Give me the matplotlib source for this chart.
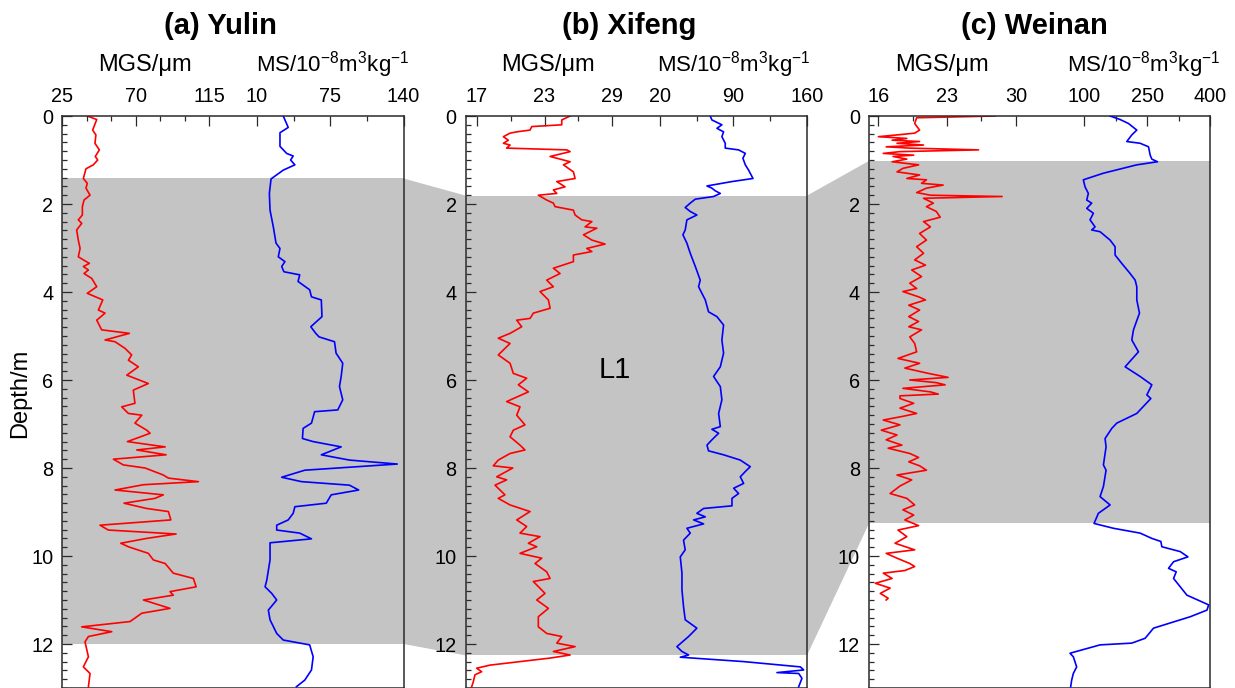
import matplotlib
matplotlib.use('Agg')
import matplotlib.pyplot as plt
from matplotlib.patches import Polygon
from matplotlib.ticker import MultipleLocator

plt.rcParams['font.family'] = ['Liberation Sans', 'DejaVu Sans']
plt.rcParams['mathtext.default'] = 'regular'

# ---------------- data ----------------
# (a) Yulin
yulin_mgs_depth = [0.00, 0.08, 0.32, 0.43, 0.62, 0.77, 0.92, 1.00, 1.11, 1.20, 1.42, 1.53, 1.64, 1.80, 1.91,
                   2.06, 2.25, 2.36, 2.44, 2.59, 2.82, 3.01, 3.20, 3.27, 3.35, 3.42, 3.50, 3.58, 3.69, 3.88,
                   4.03, 4.18, 4.41, 4.48, 4.64, 4.86, 4.94, 5.09, 5.13, 5.28, 5.43, 5.55, 5.70, 5.89, 6.08,
                   6.23, 6.53, 6.61, 6.76, 6.80, 6.98, 7.14, 7.21, 7.40, 7.52, 7.59, 7.70, 7.80, 7.93, 8.00,
                   8.16, 8.23, 8.31, 8.38, 8.50, 8.61, 8.69, 8.80, 8.92, 8.99, 9.18, 9.30, 9.41, 9.50, 9.60,
                   9.71, 9.79, 9.94, 10.09, 10.17, 10.39, 10.51, 10.70, 10.81, 10.89, 11.00, 11.19, 11.30,
                   11.49, 11.61, 11.72, 11.83, 11.95, 12.29, 12.52, 12.67, 12.97]
yulin_mgs = [40.3, 46.1, 43.6, 45.6, 45.0, 47.7, 45.2, 46.7, 44.0, 39.5, 37.9, 40.3, 39.5, 42.0, 38.3,
             37.3, 37.3, 34.8, 36.9, 33.8, 34.8, 35.9, 34.8, 37.9, 41.6, 37.9, 41.0, 38.3, 43.0, 46.1,
             40.3, 49.8, 47.1, 51.2, 46.1, 49.1, 66.1, 51.2, 57.3, 63.4, 67.5, 65.5, 71.6, 64.5, 77.7,
             68.5, 69.5, 61.4, 65.5, 73.7, 69.5, 76.7, 78.8, 64.9, 88.0, 70.6, 88.6, 56.3, 62.4, 75.7,
             86.9, 90.0, 108.4, 74.7, 57.3, 86.9, 81.8, 62.8, 76.7, 90.0, 91.5, 48.1, 53.2, 94.7, 76.7,
             60.8, 65.5, 77.7, 80.8, 88.0, 93.0, 105.3, 107.0, 91.0, 93.0, 74.7, 91.0, 73.7,
             66.5, 36.9, 55.3, 41.0, 38.9, 41.0, 37.9, 42.0, 41.0]
yulin_ms_depth = [0.00, 0.26, 0.38, 0.69, 0.85, 0.91, 1.00, 1.11, 1.23, 1.43, 1.76, 2.14, 2.52, 2.89, 3.01,
                  3.20, 3.31, 3.42, 3.54, 3.61, 3.76, 3.95, 4.11, 4.18, 4.56, 4.79, 4.94, 5.02, 5.13, 5.39,
                  5.62, 5.92, 6.15, 6.45, 6.68, 6.72, 6.98, 7.10, 7.33, 7.40, 7.52, 7.70, 7.82, 7.91, 8.05,
                  8.21, 8.31, 8.39, 8.50, 8.61, 8.80, 8.88, 9.03, 9.18, 9.30, 9.41, 9.48, 9.61, 9.70, 10.09,
                  10.55, 10.70, 10.85, 11.00, 11.23, 11.45, 11.76, 11.91, 12.02, 12.29, 12.59, 12.82, 12.97]
yulin_ms = [33.4, 37.8, 30.5, 30.5, 36.4, 42.2, 39.9, 43.7, 33.4, 22.6, 21.1, 21.7, 24.6, 27.0, 30.5,
            29.0, 34.9, 32.0, 34.0, 48.0, 46.5, 56.8, 58.4, 67.1, 67.7, 57.8, 62.2, 65.1, 78.8, 80.2,
            86.1, 84.7, 83.2, 86.1, 81.7, 61.2, 58.4, 51.0, 50.4, 59.9, 84.7, 67.1, 92.0, 134.4, 52.5,
            32.0, 49.5, 92.0, 100.2, 75.9, 71.5, 43.7, 42.2, 37.8, 27.6, 27.6, 48.0, 58.4, 21.7, 21.7,
            18.8, 17.3, 23.2, 27.6, 20.2, 21.7, 27.6, 33.4, 56.8, 59.9, 58.4, 52.5, 45.1]

# (b) Xifeng
xifeng_mgs_depth = [0.00, 0.09, 0.20, 0.24, 0.32, 0.36, 0.39, 0.47, 0.55, 0.62, 0.66, 0.73, 0.77, 0.81, 0.92,
                    1.04, 1.11, 1.27, 1.42, 1.49, 1.61, 1.68, 1.76, 1.80, 1.91, 1.98, 2.06, 2.14, 2.25, 2.36,
                    2.40, 2.52, 2.55, 2.70, 2.82, 2.91, 3.01, 3.08, 3.16, 3.31, 3.46, 3.58, 3.73, 3.88, 3.99,
                    4.18, 4.37, 4.48, 4.60, 4.64, 4.79, 4.94, 5.05, 5.17, 5.43, 5.62, 5.85, 5.96, 6.11, 6.27,
                    6.49, 6.61, 6.80, 7.02, 7.14, 7.29, 7.48, 7.59, 7.67, 7.82, 7.95, 8.00, 8.20, 8.27, 8.39,
                    8.61, 8.69, 8.84, 8.99, 9.18, 9.33, 9.48, 9.56, 9.71, 9.79, 9.94, 10.05, 10.17, 10.36,
                    10.51, 10.58, 10.85, 11.00, 11.19, 11.38, 11.61, 11.76, 11.83, 11.98, 12.06, 12.17,
                    12.25, 12.32, 12.40, 12.48, 12.55, 12.63, 12.70, 12.86, 12.97]
xifeng_mgs = [25.26, 24.52, 24.52, 21.87, 21.72, 20.54, 19.95, 19.36, 19.80, 19.36, 19.95, 19.65, 24.96, 25.26, 23.49,
              25.26, 24.67, 25.55, 25.70, 24.08, 24.81, 23.78, 24.08, 22.45, 23.19, 23.78, 23.93, 25.55, 25.70, 26.29,
              27.18, 26.58, 27.62, 26.44, 27.18, 28.35, 26.73, 27.18, 25.55, 25.55, 23.78, 24.37, 23.19, 23.78, 22.60,
              23.34, 23.49, 22.01, 21.72, 20.54, 20.98, 19.95, 18.91, 19.95, 18.91, 19.95, 20.24, 21.42, 20.68, 21.57,
              19.65, 20.83, 20.54, 21.27, 20.24, 19.95, 20.83, 21.27, 19.95, 18.91, 18.47, 20.19, 18.77, 19.65, 18.62,
              19.50, 18.91, 19.95, 21.72, 20.54, 21.42, 20.83, 22.60, 21.57, 22.31, 20.83, 22.75, 22.16, 23.19,
              23.49, 22.01, 23.04, 22.31, 23.34, 22.45, 22.45, 23.19, 24.52, 24.08, 25.70, 23.78,
              25.26, 23.49, 20.83, 18.18, 17.00, 17.44, 16.85, 16.70, 16.56]
xifeng_ms_depth = [0.00, 0.09, 0.20, 0.28, 0.36, 0.47, 0.62, 0.73, 0.77, 0.85, 0.96, 1.11, 1.23, 1.42, 1.49,
                   1.59, 1.64, 1.70, 1.76, 1.83, 1.89, 1.98, 2.08, 2.17, 2.25, 2.36, 2.59, 2.70, 2.89, 3.12,
                   3.42, 3.73, 3.88, 4.18, 4.45, 4.56, 4.75, 5.09, 5.39, 5.70, 5.92, 6.15, 6.45, 6.76, 7.06,
                   7.12, 7.21, 7.36, 7.48, 7.61, 7.70, 7.82, 7.97, 8.08, 8.20, 8.35, 8.46, 8.58, 8.69, 8.86,
                   8.92, 9.03, 9.11, 9.18, 9.27, 9.37, 9.48, 9.64, 9.86, 10.02, 10.39, 10.77, 11.15, 11.45,
                   11.64, 11.83, 12.06, 12.17, 12.25, 12.30, 12.40, 12.52, 12.59, 12.65, 12.67, 12.78, 12.97]
xifeng_ms = [67.9, 69.5, 79.0, 74.3, 80.6, 79.0, 82.2, 82.2, 94.9, 101.3, 99.0, 101.3, 104.4, 108.6, 88.6,
             64.8, 69.5, 72.7, 77.5, 71.1, 53.7, 48.9, 44.1, 48.9, 55.2, 45.7, 44.1, 41.9, 45.7, 48.9,
             53.7, 58.4, 56.8, 63.2, 66.3, 74.3, 80.6, 79.0, 80.6, 77.5, 71.1, 77.5, 79.0, 75.9, 77.5,
             69.5, 75.9, 69.5, 64.8, 66.3, 80.6, 96.5, 106.0, 101.3, 96.5, 99.7, 90.2, 94.9, 88.6, 88.6,
             61.6, 55.2, 63.2, 52.1, 61.6, 45.7, 48.9, 42.5, 44.1, 39.4, 41.0, 41.0, 42.5, 44.1,
             55.2, 47.3, 36.2, 41.0, 47.3, 39.4, 99.7, 153.7, 156.8, 131.4, 152.1, 155.2, 152.1]

# (c) Weinan
weinan_mgs_depth = [0.00, 0.04, 0.17, 0.32, 0.39, 0.43, 0.47, 0.51, 0.55, 0.58, 0.62, 0.66, 0.70, 0.73, 0.77,
                    0.81, 0.85, 0.89, 0.92, 0.98, 1.04, 1.11, 1.19, 1.27, 1.34, 1.42, 1.45, 1.53, 1.57, 1.64,
                    1.74, 1.80, 1.83, 1.87, 1.98, 2.06, 2.17, 2.30, 2.40, 2.52, 2.67, 2.82, 2.97, 3.12, 3.27,
                    3.39, 3.50, 3.65, 3.80, 3.92, 3.99, 4.11, 4.18, 4.30, 4.41, 4.56, 4.67, 4.79, 4.86, 5.02,
                    5.17, 5.36, 5.51, 5.62, 5.73, 5.85, 5.94, 6.00, 6.06, 6.11, 6.19, 6.27, 6.32, 6.36, 6.42,
                    6.53, 6.64, 6.76, 6.83, 6.91, 7.02, 7.14, 7.25, 7.36, 7.48, 7.55, 7.67, 7.76, 7.86, 7.95,
                    8.05, 8.16, 8.27, 8.41, 8.58, 8.69, 8.84, 8.95, 9.07, 9.18, 9.31, 9.41, 9.56, 9.71, 9.86,
                    9.94, 10.05, 10.17, 10.24, 10.33, 10.39, 10.51, 10.62, 10.73, 10.85, 10.96, 11.00]
weinan_mgs = [27.9, 19.9, 19.7, 20.2, 19.7, 17.9, 16.0, 18.9, 17.4, 20.2, 17.9, 20.6, 16.8, 19.2, 26.2,
              18.2, 16.5, 19.6, 17.5, 18.9, 17.4, 20.1, 18.5, 17.9, 20.2, 18.9, 20.9, 20.4, 22.6, 20.9,
              19.9, 21.3, 28.6, 20.6, 21.6, 20.9, 21.9, 22.3, 20.6, 21.3, 20.2, 20.9, 19.9, 20.6, 19.7,
              20.8, 19.4, 20.4, 19.2, 19.9, 18.5, 20.1, 20.8, 19.1, 20.2, 19.1, 20.1, 19.1, 20.4, 19.2,
              19.7, 19.9, 18.0, 20.2, 18.7, 21.1, 23.1, 19.2, 21.9, 22.8, 18.5, 21.3, 22.1, 18.2, 18.2,
              19.6, 18.2, 19.9, 18.4, 16.5, 18.2, 16.3, 17.9, 16.8, 18.4, 17.0, 19.2, 20.1, 19.1, 20.2,
              20.9, 17.9, 19.4, 18.2, 17.2, 18.9, 19.7, 18.5, 19.6, 18.7, 20.1, 18.0, 18.9, 17.7, 19.7,
              16.8, 17.9, 19.2, 19.7, 18.7, 16.5, 17.4, 15.7, 17.2, 16.2, 17.0, 16.8]
weinan_ms_depth = [0.00, 0.08, 0.17, 0.32, 0.43, 0.58, 0.62, 0.70, 0.89, 0.98, 1.04, 1.11, 1.30, 1.45, 1.61,
                   1.76, 1.91, 1.98, 2.10, 2.21, 2.36, 2.52, 2.59, 2.63, 2.82, 2.97, 3.16, 3.35, 3.58, 3.73,
                   3.88, 4.18, 4.48, 4.86, 5.09, 5.36, 5.70, 5.92, 6.11, 6.34, 6.42, 6.76, 6.98, 7.10, 7.33,
                   7.52, 7.93, 8.05, 8.42, 8.65, 8.84, 9.03, 9.26, 9.37, 9.48, 9.60, 9.67, 9.79, 9.90, 10.02,
                   10.13, 10.28, 10.36, 10.51, 10.89, 11.11, 11.23, 11.38, 11.64, 11.87, 11.98, 12.02, 12.21,
                   12.29, 12.52, 12.67, 12.82, 12.97]
weinan_ms = [161.3, 185.2, 205.0, 224.9, 213.0, 201.1, 232.9, 252.8, 256.8, 260.7, 274.3, 224.9, 145.4, 97.6, 101.6,
             109.5, 105.6, 117.5, 105.6, 121.5, 113.5, 125.5, 117.5, 137.4, 161.3, 173.2, 173.2, 189.1, 209.0, 221.0,
             224.9, 224.9, 231.3, 217.0, 213.0, 228.9, 197.1, 232.9, 260.7, 248.8, 258.4, 224.9, 177.2, 165.3, 149.3,
             151.7, 145.4, 151.7, 145.4, 137.4, 161.3, 133.4, 123.1, 169.2, 232.9, 260.7, 282.2, 284.6, 328.4, 346.7,
             312.5, 300.5, 318.8, 312.5, 344.3, 396.0, 392.1, 352.3, 264.7, 244.8, 213.0, 137.4, 65.8,
             73.7, 81.7, 73.7, 69.8, 67.4]

titles = ['(a) Yulin', '(b) Xifeng', '(c) Weinan']
mgs_major = [[25, 70, 115], [17, 23, 29], [16, 23, 30]]
mgs_minor = [[40, 55, 85, 100], [20, 26], [19.5, 26.5]]
ms_major = [[10, 75, 140], [20, 90, 160], [100, 250, 400]]
ms_minor = [[42.5, 107.5], [55, 125], [175, 325]]
bands = [(1.42, 12.0), (1.81, 12.26), (1.02, 9.26)]  # L1 loess unit depth range
depth_max = 13

mgs_depths = [yulin_mgs_depth, xifeng_mgs_depth, weinan_mgs_depth]
mgs_values = [yulin_mgs, xifeng_mgs, weinan_mgs]
ms_depths = [yulin_ms_depth, xifeng_ms_depth, weinan_ms_depth]
ms_values = [yulin_ms, xifeng_ms, weinan_ms]

# ---------------- layout ----------------
W, H = 1235, 688
fig = plt.figure(figsize=(W / 100, H / 100), dpi=100)

lefts_px = [62.3, 465.7, 869.0]
width_px = 341.3
top_px = 116
mgs_lims = [(25, 234.1), (16.03, 46.2), (15.05, 49.79)]
ms_lims = [(-162.3, 140), (-164.8, 160), (-413, 400)]
title_x = [220, 628.8, 1034]
mgs_label_x = [145.4, 547.7, 942]
ms_label_x = [333, 733.3, 1143.8]

GRAY = '#c4c4c4'
SPINE = '#2a2a2a'
TICK_FS = 14.3
LABEL_FS = 17


def style_top_ticks(a):
    a.xaxis.set_ticks_position('top')
    a.tick_params(axis='x', which='both', direction='in', top=True, bottom=False,
                  labeltop=True, labelbottom=False, pad=7.5, labelsize=TICK_FS,
                  colors=SPINE, labelcolor='black', width=0.9)
    a.tick_params(axis='x', which='major', length=7.2)
    a.tick_params(axis='x', which='minor', length=3.6)


axes = []
for i in range(3):
    ax = fig.add_axes([lefts_px[i] / W, 0, width_px / W, (H - top_px) / H])
    ax2 = ax.twiny()

    ax.set_ylim(depth_max, 0)
    ax.set_xlim(*mgs_lims[i])
    ax.set_xticks(mgs_major[i])
    ax.set_xticks(mgs_minor[i], minor=True)
    ax.set_yticks(range(0, 13, 2))
    ax.yaxis.set_minor_locator(MultipleLocator(0.2))
    for s in ax.spines.values():
        s.set_color(SPINE)
        s.set_linewidth(1.1)
    style_top_ticks(ax)
    ax.tick_params(axis='y', which='both', direction='in', left=True, right=False,
                   pad=6.5, labelsize=TICK_FS, colors=SPINE, labelcolor='black', width=0.9)
    ax.tick_params(axis='y', which='major', length=7.2)
    ax.tick_params(axis='y', which='minor', length=3.6)

    ax.axhspan(bands[i][0], bands[i][1], facecolor=GRAY, edgecolor='none', zorder=0)
    ax.plot(mgs_values[i], mgs_depths[i], color='#ff0000', lw=1.2, zorder=2)

    ax2.set_xlim(*ms_lims[i])
    ax2.set_ylim(depth_max, 0)
    ax2.set_xticks(ms_major[i])
    ax2.set_xticks(ms_minor[i], minor=True)
    for s in ax2.spines.values():
        s.set_visible(False)
    style_top_ticks(ax2)
    ax2.plot(ms_values[i], ms_depths[i], color='#0000ff', lw=1.2, zorder=2)

    fig.text(title_x[i] / W, 1 - 34 / H, titles[i], ha='center', va='baseline',
             fontsize=21, fontweight='bold')
    fig.text(mgs_label_x[i] / W, 1 - 71 / H, 'MGS/μm', ha='center', va='baseline',
             fontsize=LABEL_FS)
    fig.text(ms_label_x[i] / W, 1 - 71 / H, r'MS/10$^{-8}$m$^{3}$kg$^{-1}$',
             ha='center', va='baseline', fontsize=16)
    axes.append(ax)

# connectors between the L1 bands of neighbouring sections
inv = fig.transFigure.inverted()
for i in range(2):
    a, b = axes[i], axes[i + 1]
    xa = a.get_position().x1
    xb = b.get_position().x0
    ya_t = inv.transform(a.transData.transform((a.get_xlim()[0], bands[i][0])))[1]
    ya_b = inv.transform(a.transData.transform((a.get_xlim()[0], bands[i][1])))[1]
    yb_t = inv.transform(b.transData.transform((b.get_xlim()[0], bands[i + 1][0])))[1]
    yb_b = inv.transform(b.transData.transform((b.get_xlim()[0], bands[i + 1][1])))[1]
    poly = Polygon([(xa, ya_t), (xb, yb_t), (xb, yb_b), (xa, ya_b)], closed=True,
                   transform=fig.transFigure, facecolor=GRAY, edgecolor='none', zorder=-1)
    fig.add_artist(poly)

fig.text(20.5 / W, 1 - 393 / H, 'Depth/m', rotation=90, ha='center', va='center',
         fontsize=LABEL_FS)
fig.text(615 / W, 1 - 377.7 / H, 'L1', ha='center', va='baseline', fontsize=21)

fig.savefig('out.png', dpi=100)
